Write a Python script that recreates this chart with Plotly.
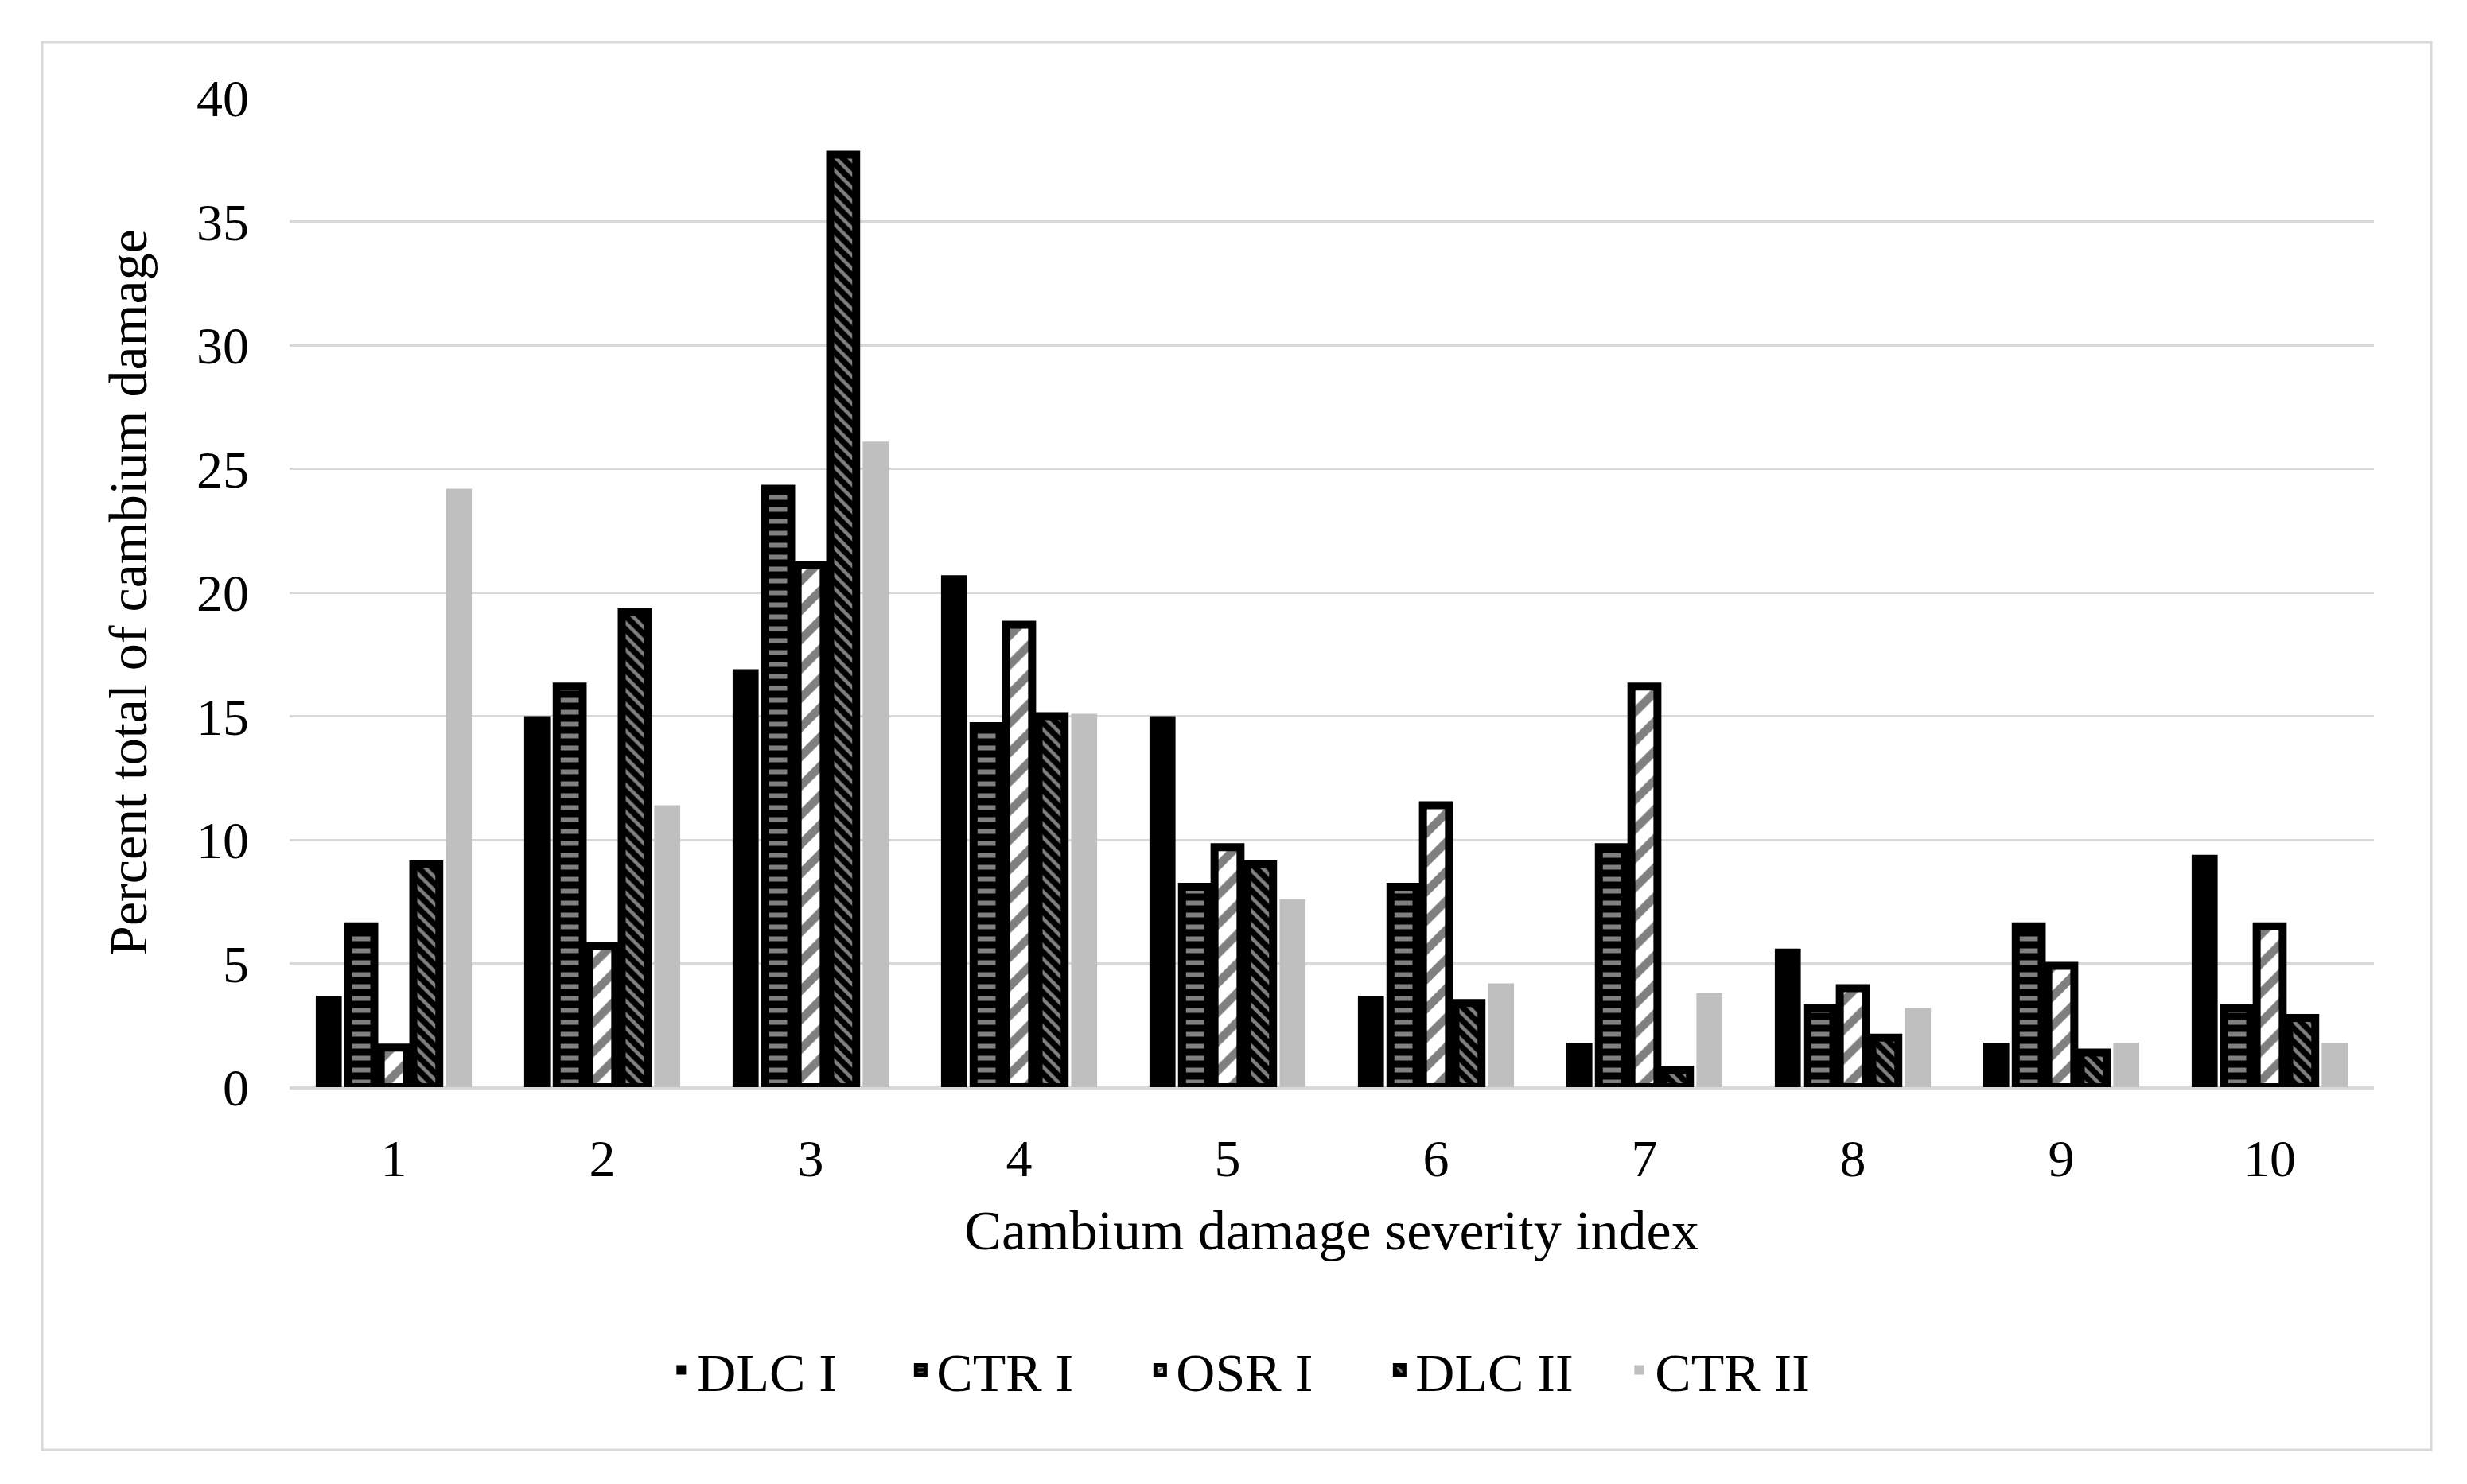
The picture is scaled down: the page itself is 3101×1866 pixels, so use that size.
import plotly.graph_objects as go

categories = ["1", "2", "3", "4", "5", "6", "7", "8", "9", "10"]
dlc_i  = [3.7, 15.0, 16.9, 20.7, 15.0, 3.7, 1.8, 5.6, 1.8, 9.4]
ctr_i  = [6.5, 16.2, 24.2, 14.6, 8.1, 8.1, 9.7, 3.2, 6.5, 3.2]
osr_i  = [1.6, 5.7, 21.1, 18.7, 9.7, 11.4, 16.2, 4.0, 4.9, 6.5]
dlc_ii = [9.0, 19.2, 37.7, 15.0, 9.0, 3.4, 0.7, 2.0, 1.4, 2.8]
ctr_ii = [24.2, 11.4, 26.1, 15.1, 7.6, 4.2, 3.8, 3.2, 1.8, 1.8]

FONT = "Liberation Serif"
GRID = "#d9d9d9"

fig = go.Figure()
fig.add_trace(go.Bar(name="DLC I", x=categories, y=dlc_i,
                     marker=dict(color="black", line=dict(color="black", width=0))))
fig.add_trace(go.Bar(name="CTR I", x=categories, y=ctr_i,
                     marker=dict(color="black", line=dict(color="black", width=10),
                                 pattern=dict(shape="-", fgcolor="white", size=15, solidity=0.4))))
fig.add_trace(go.Bar(name="OSR I", x=categories, y=osr_i,
                     marker=dict(color="white", line=dict(color="black", width=10),
                                 pattern=dict(shape="/", fgcolor="black", size=26, solidity=0.4))))
fig.add_trace(go.Bar(name="DLC II", x=categories, y=dlc_ii,
                     marker=dict(color="black", line=dict(color="black", width=10),
                                 pattern=dict(shape="\\", fgcolor="white", size=12, solidity=0.38))))
fig.add_trace(go.Bar(name="CTR II", x=categories, y=ctr_ii,
                     marker=dict(color="#bfbfbf", line=dict(width=0))))

fig.update_layout(
    width=3101, height=1866,
    margin=dict(l=356, r=125, t=115, b=507),
    paper_bgcolor="white", plot_bgcolor="white",
    barmode="group", bargap=0.22, bargroupgap=0.2,
    font=dict(family=FONT, color="black", size=68),
    legend=dict(orientation="h", x=0.4675, xanchor="center", y=-0.286, yanchor="middle",
                font=dict(family=FONT, size=68), itemwidth=30, entrywidth=256,
                traceorder="normal"),
    xaxis=dict(
        title=dict(text="Cambium damage severity index", font=dict(family=FONT, size=70), standoff=30),
        tickfont=dict(family=FONT, size=66), showgrid=False,
        showline=True, linecolor=GRID, linewidth=3, ticks="", ticklabelstandoff=30,
    ),
    yaxis=dict(
        title=dict(text="Percent total of cambium damage", font=dict(family=FONT, size=68), standoff=40),
        tickfont=dict(family=FONT, size=66), range=[0, 40], dtick=5,
        showgrid=True, gridcolor=GRID, gridwidth=3, zeroline=True, zerolinecolor=GRID, zerolinewidth=3,
        ticks="", ticklabelstandoff=50,
    ),
    shapes=[dict(type="rect", xref="paper", yref="paper",
                 x0=-0.1187, x1=1.0275, y0=-0.3666, y1=1.0563,
                 line=dict(color=GRID, width=3), fillcolor="rgba(0,0,0,0)", layer="below")],
)

fig.write_html("out.html")
